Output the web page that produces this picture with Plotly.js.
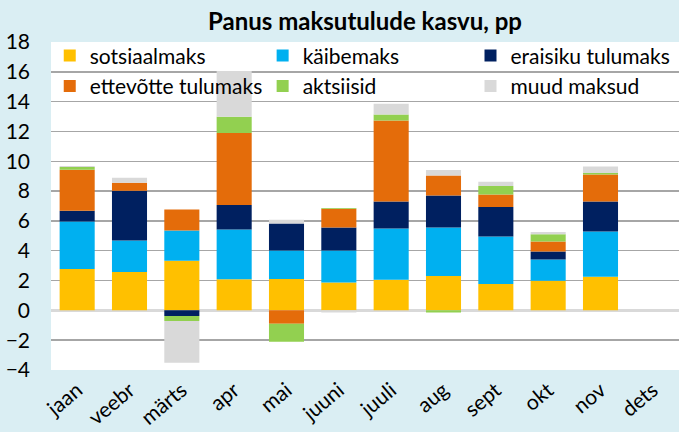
<!DOCTYPE html>
<html>
<head>
<meta charset="utf-8">
<script src="https://cdn.plot.ly/plotly-3.0.1.min.js"></script>
<style>html,body{margin:0;padding:0;background:#DAEEF3;}#chart{width:679px;height:432px;}</style>
</head>
<body>
<div id="chart"></div>
<script>
const months = ["jaan","veebr","märts","apr","mai","juuni","juuli","aug","sept","okt","nov","dets"];
const sotsiaalmaks = [2.77, 2.58, 3.32, 2.09, 2.11, 1.87, 2.05, 2.30, 1.76, 1.98, 2.25, null];
const kaibemaks    = [3.19, 2.10, 2.04, 3.33, 1.90, 2.14, 3.44, 3.26, 3.19, 1.43, 3.04, null];
const eraisiku     = [0.72, 3.34, -0.37, 1.64, 1.82, 1.55, 1.81, 2.14, 1.98, 0.54, 2.01, null];
const ettevotte    = [2.75, 0.54, 1.41, 4.83, -0.90, 1.25, 5.44, 1.35, 0.84, 0.67, 1.81, null];
const aktsiisid    = [0.18, 0.00, -0.35, 1.10, -1.21, 0.05, 0.40, -0.15, 0.57, 0.49, 0.10, null];
const muud         = [0.07, 0.33, -2.80, 3.06, 0.24, -0.15, 0.72, 0.36, 0.28, 0.14, 0.44, null];

const seriesNames = ["sotsiaalmaks","käibemaks","eraisiku tulumaks","ettevõtte tulumaks","aktsiisid","muud maksud"];
const seriesData = [sotsiaalmaks, kaibemaks, eraisiku, ettevotte, aktsiisid, muud];
const seriesColors = ["#FFC000","#00B0F0","#002060","#E46C0A","#92D050","#D9D9D9"];
// legend column for each series (three columns, two rows)
const legendIds = ["legend","legend2","legend3","legend","legend2","legend3"];

const font = "Lato, 'Noto Sans', sans-serif";
const fs = 21;

const traces = seriesNames.map((n, i) => ({
  type: "bar",
  name: n,
  x: months,
  y: seriesData[i],
  legend: legendIds[i],
  marker: {color: seriesColors[i], line: {width: 0}},
  hoverinfo: "skip"
}));

function leg(x) {
  return {
    orientation: "v", x: x, xanchor: "left", y: 1.02, yanchor: "top",
    bgcolor: "rgba(0,0,0,0)", borderwidth: 0, itemwidth: 30,
    font: {family: font, size: fs, color: "#000"}, traceorder: "normal"
  };
}

const layout = {
  width: 679, height: 432,
  paper_bgcolor: "#DAEEF3",
  plot_bgcolor: "#FFFFFF",
  margin: {l: 51, r: 0, t: 42, b: 62},
  barmode: "relative",
  bargap: 0.33,
  title: {text: "<b>Panus maksutulude kasvu, pp</b>", font: {family: font, size: 24, color: "#000"}, xref: "paper", x: 0.5, xanchor: "center", yref: "container", y: 0.95, yanchor: "middle"},
  font: {family: font, size: fs, color: "#000"},
  showlegend: true,
  legend: leg(-0.002),
  legend2: leg(0.337),
  legend3: leg(0.668),
  xaxis: {
    type: "category", tickangle: -40, showgrid: false, zeroline: false,
    showline: false, ticks: "", ticklabelstandoff: 3,
    tickfont: {family: font, size: fs, color: "#000"}
  },
  yaxis: {
    range: [-4, 18], dtick: 2, tick0: 0, showgrid: true, gridcolor: "#A6A6A6", gridwidth: 1.5,
    zeroline: true, zerolinecolor: "#D9D9D9", zerolinewidth: 2.5, showline: false,
    ticks: "", ticklabelstandoff: 20, tickfont: {family: font, size: fs, color: "#000"}
  }
};

Plotly.newPlot("chart", traces, layout, {displayModeBar: false, staticPlot: true});
</script>
</body>
</html>
